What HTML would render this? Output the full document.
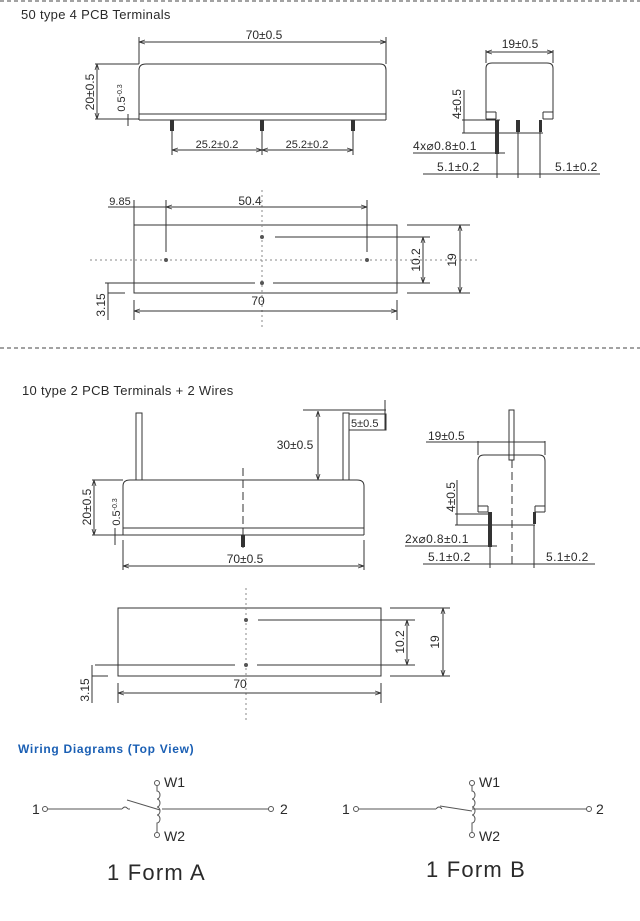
<!DOCTYPE html>
<html><head><meta charset="utf-8"><style>
html,body{margin:0;padding:0;background:#fff}
svg{display:block}
text{font-family:"Liberation Sans",sans-serif;fill:#2a2a2a}
</style></head><body>
<svg width="640" height="921" viewBox="0 0 640 921" xmlns="http://www.w3.org/2000/svg">
<defs>
<marker id="a" markerWidth="6" markerHeight="6" refX="6" refY="3" orient="auto-start-reverse"><path d="M0,1 L6,3 L0,5" fill="none" stroke="#333" stroke-width="0.8"/></marker>
</defs>
<g stroke="#444" stroke-width="1" fill="none">
<line x1="0" y1="1" x2="640" y2="1" stroke-dasharray="4,3"/>
<line x1="0" y1="348" x2="640" y2="348" stroke-dasharray="4,3"/>
</g>
<text x="21" y="19" font-size="13" letter-spacing="0.3">50 type 4 PCB Terminals</text>
<text x="22" y="395" font-size="13" letter-spacing="0.3">10 type 2 PCB Terminals + 2 Wires</text>

<!-- Section 1 side view -->
<g stroke="#333" stroke-width="1" fill="none">
<path d="M139,120 V70 Q139,64 146,64 H380 Q386,64 386,70 V120"/>
<line x1="139" y1="114" x2="386" y2="114"/>
<line x1="139" y1="120" x2="386" y2="120"/>
<line x1="139" y1="37" x2="139" y2="64"/><line x1="386" y1="37" x2="386" y2="64"/>
<line x1="139" y1="42" x2="386" y2="42" marker-start="url(#a)" marker-end="url(#a)"/>
<line x1="95" y1="64" x2="139" y2="64"/><line x1="95" y1="119" x2="139" y2="119"/>
<line x1="97" y1="64" x2="97" y2="119" marker-start="url(#a)" marker-end="url(#a)"/>
<line x1="128" y1="114" x2="128" y2="126"/>
<line x1="172" y1="125" x2="172" y2="155"/><line x1="262" y1="125" x2="262" y2="155"/><line x1="353" y1="125" x2="353" y2="155"/>
<line x1="172" y1="150" x2="262" y2="150" marker-start="url(#a)" marker-end="url(#a)"/>
<line x1="262" y1="150" x2="353" y2="150" marker-start="url(#a)" marker-end="url(#a)"/>
</g>
<g fill="#333"><rect x="170" y="120" width="4" height="11"/><rect x="260" y="120" width="4" height="11"/><rect x="351" y="120" width="4" height="11"/></g>
<text x="264" y="39" font-size="12" text-anchor="middle">70±0.5</text>
<text transform="translate(94,92) rotate(-90)" font-size="12" text-anchor="middle">20±0.5</text>
<text transform="translate(125,98) rotate(-90)" font-size="11" text-anchor="middle">0.5<tspan font-size="7" dy="-3">-0.3</tspan></text>
<text x="217" y="148" font-size="11" text-anchor="middle">25.2±0.2</text>
<text x="307" y="148" font-size="11" text-anchor="middle">25.2±0.2</text>

<!-- Section 1 end view -->
<g stroke="#333" stroke-width="1" fill="none">
<path d="M486,119 V68 Q486,63 492,63 H547 Q553,63 553,68 V119"/>
<line x1="486" y1="119" x2="496" y2="119"/><line x1="543" y1="119" x2="553" y2="119"/>
<line x1="496" y1="119" x2="496" y2="112"/><line x1="543" y1="119" x2="543" y2="112"/>
<line x1="486" y1="112" x2="496" y2="112"/><line x1="543" y1="112" x2="553" y2="112"/>
<line x1="486" y1="50" x2="486" y2="63"/><line x1="553" y1="50" x2="553" y2="63"/>
<line x1="486" y1="52" x2="553" y2="52" marker-start="url(#a)" marker-end="url(#a)"/>
<line x1="462" y1="120" x2="500" y2="120"/><line x1="462" y1="133" x2="543" y2="133"/>
<line x1="464" y1="90" x2="464" y2="133"/>
<line x1="413" y1="153" x2="505" y2="153"/>
<line x1="423" y1="174" x2="600" y2="174"/>
<line x1="497" y1="150" x2="497" y2="178"/><line x1="518" y1="130" x2="518" y2="178"/><line x1="540" y1="130" x2="540" y2="178"/>
</g>
<g fill="#333"><rect x="495" y="120" width="4" height="34"/><rect x="516" y="120" width="4" height="12"/><rect x="539" y="120" width="3" height="12"/></g>
<text x="520" y="48" font-size="12" text-anchor="middle">19±0.5</text>
<text transform="translate(461,104) rotate(-90)" font-size="12" text-anchor="middle">4±0.5</text>
<text x="413" y="150" font-size="12" letter-spacing="0.4">4x⌀0.8±0.1</text>
<text x="437" y="171" font-size="12" letter-spacing="0.4">5.1±0.2</text>
<text x="555" y="171" font-size="12" letter-spacing="0.4">5.1±0.2</text>

<!-- Section 1 plan -->
<g stroke="#333" stroke-width="1" fill="none">
<rect x="134" y="225" width="263" height="68"/>
<line x1="90" y1="260" x2="478" y2="260" stroke-dasharray="2,3" stroke="#888"/>
<line x1="262" y1="190" x2="262" y2="330" stroke-dasharray="2,3" stroke="#888"/>
<line x1="275" y1="237" x2="430" y2="237"/>
<line x1="105" y1="283" x2="255" y2="283"/><line x1="273" y1="283" x2="430" y2="283"/>
<line x1="423" y1="237" x2="423" y2="283" marker-start="url(#a)" marker-end="url(#a)"/>
<line x1="407" y1="225" x2="470" y2="225"/><line x1="407" y1="293" x2="470" y2="293"/>
<line x1="460" y1="225" x2="460" y2="293" marker-start="url(#a)" marker-end="url(#a)"/>
<line x1="134" y1="200" x2="134" y2="225"/><line x1="166" y1="200" x2="166" y2="252"/><line x1="367" y1="200" x2="367" y2="252"/>
<line x1="108" y1="207" x2="166" y2="207"/>
<line x1="166" y1="207" x2="367" y2="207" marker-start="url(#a)" marker-end="url(#a)"/>
<line x1="134" y1="300" x2="134" y2="320"/><line x1="397" y1="300" x2="397" y2="320"/>
<line x1="134" y1="311" x2="397" y2="311" marker-start="url(#a)" marker-end="url(#a)"/>
<line x1="108" y1="283" x2="108" y2="320"/><line x1="108" y1="293" x2="125" y2="293"/>
</g>
<g fill="#555"><circle cx="166" cy="260" r="2"/><circle cx="367" cy="260" r="2"/><circle cx="262" cy="237" r="2"/><circle cx="262" cy="283" r="2"/></g>
<text x="120" y="205" font-size="11" text-anchor="middle">9.85</text>
<text x="250" y="205" font-size="12" text-anchor="middle">50.4</text>
<text x="258" y="305" font-size="12" text-anchor="middle">70</text>
<text transform="translate(420,260) rotate(-90)" font-size="12" text-anchor="middle">10.2</text>
<text transform="translate(456,260) rotate(-90)" font-size="12" text-anchor="middle">19</text>
<text transform="translate(105,305) rotate(-90)" font-size="12" text-anchor="middle">3.15</text>

<!-- Section 2 side view -->
<g stroke="#333" stroke-width="1" fill="none">
<path d="M123,535 V486 Q123,480 130,480 H357 Q364,480 364,486 V535"/>
<line x1="123" y1="528" x2="364" y2="528"/><line x1="123" y1="535" x2="364" y2="535"/>
<rect x="136" y="413" width="6" height="67"/>
<rect x="343" y="413" width="6" height="67"/>
<line x1="303" y1="410" x2="386" y2="410"/>
<line x1="318" y1="411" x2="318" y2="480" marker-start="url(#a)" marker-end="url(#a)"/>
<rect x="349" y="414" width="37" height="16"/>
<line x1="385" y1="400" x2="385" y2="430"/>
<line x1="243" y1="468" x2="243" y2="548" stroke-dasharray="8,4"/>
<line x1="92" y1="480" x2="123" y2="480"/><line x1="92" y1="535" x2="123" y2="535"/>
<line x1="94" y1="480" x2="94" y2="535" marker-start="url(#a)" marker-end="url(#a)"/>
<line x1="115" y1="528" x2="115" y2="545"/>
<line x1="123" y1="540" x2="123" y2="570"/><line x1="364" y1="540" x2="364" y2="570"/>
<line x1="123" y1="566" x2="364" y2="566" marker-start="url(#a)" marker-end="url(#a)"/>
</g>
<rect x="241" y="535" width="4" height="12" fill="#333"/>
<text x="295" y="449" font-size="12" text-anchor="middle">30±0.5</text>
<text x="351" y="427" font-size="11">5±0.5</text>
<text x="245" y="563" font-size="12" text-anchor="middle">70±0.5</text>
<text transform="translate(91,507) rotate(-90)" font-size="12" text-anchor="middle">20±0.5</text>
<text transform="translate(120,512) rotate(-90)" font-size="11" text-anchor="middle">0.5<tspan font-size="7" dy="-3">-0.3</tspan></text>

<!-- Section 2 end view -->
<g stroke="#333" stroke-width="1" fill="none">
<path d="M478,512 V461 Q478,455 484,455 H539 Q545,455 545,461 V512"/>
<line x1="478" y1="512" x2="488" y2="512"/><line x1="535" y1="512" x2="545" y2="512"/>
<line x1="488" y1="512" x2="488" y2="506"/><line x1="535" y1="512" x2="535" y2="506"/>
<line x1="478" y1="506" x2="488" y2="506"/><line x1="535" y1="506" x2="545" y2="506"/>
<rect x="509" y="410" width="5" height="50"/>
<line x1="512" y1="460" x2="512" y2="566" stroke-dasharray="8,4"/>
<line x1="478" y1="441" x2="478" y2="455"/><line x1="545" y1="441" x2="545" y2="455"/>
<line x1="426" y1="442" x2="545" y2="442"/>
<line x1="455" y1="514" x2="490" y2="514"/><line x1="455" y1="525" x2="535" y2="525"/>
<line x1="457" y1="480" x2="457" y2="525"/>
<line x1="405" y1="546" x2="497" y2="546"/>
<line x1="423" y1="564" x2="595" y2="564"/>
<line x1="490" y1="540" x2="490" y2="568"/><line x1="534" y1="525" x2="534" y2="568"/>
</g>
<g fill="#333"><rect x="488" y="512" width="4" height="35"/><rect x="533" y="512" width="3" height="12"/></g>
<text x="428" y="440" font-size="12">19±0.5</text>
<text transform="translate(455,497) rotate(-90)" font-size="12" text-anchor="middle">4±0.5</text>
<text x="405" y="543" font-size="12" letter-spacing="0.4">2x⌀0.8±0.1</text>
<text x="428" y="561" font-size="12" letter-spacing="0.4">5.1±0.2</text>
<text x="546" y="561" font-size="12" letter-spacing="0.4">5.1±0.2</text>

<!-- Section 2 plan -->
<g stroke="#333" stroke-width="1" fill="none">
<rect x="118" y="608" width="263" height="68"/>
<line x1="246" y1="588" x2="246" y2="720" stroke-dasharray="2,3" stroke="#888"/>
<line x1="258" y1="620" x2="415" y2="620"/>
<line x1="95" y1="665" x2="235" y2="665"/><line x1="257" y1="665" x2="415" y2="665"/>
<line x1="407" y1="620" x2="407" y2="665" marker-start="url(#a)" marker-end="url(#a)"/>
<line x1="390" y1="608" x2="450" y2="608"/><line x1="390" y1="676" x2="450" y2="676"/>
<line x1="443" y1="608" x2="443" y2="676" marker-start="url(#a)" marker-end="url(#a)"/>
<line x1="118" y1="683" x2="118" y2="703"/><line x1="381" y1="683" x2="381" y2="703"/>
<line x1="118" y1="693" x2="381" y2="693" marker-start="url(#a)" marker-end="url(#a)"/>
<line x1="92" y1="665" x2="92" y2="703"/><line x1="92" y1="676" x2="108" y2="676"/>
</g>
<g fill="#555"><circle cx="246" cy="620" r="2"/><circle cx="246" cy="665" r="2"/></g>
<text x="240" y="688" font-size="12" text-anchor="middle">70</text>
<text transform="translate(404,642) rotate(-90)" font-size="12" text-anchor="middle">10.2</text>
<text transform="translate(439,642) rotate(-90)" font-size="12" text-anchor="middle">19</text>
<text transform="translate(89,690) rotate(-90)" font-size="12" text-anchor="middle">3.15</text>

<!-- Wiring -->
<text x="18" y="753" font-size="12" font-weight="bold" letter-spacing="0.7" style="fill:#1a5fb4">Wiring Diagrams (Top View)</text>
<g stroke="#555" stroke-width="1" fill="none">
<circle cx="45" cy="809" r="2.5"/><line x1="48" y1="809" x2="122" y2="809"/>
<path d="M122,809 q3,-4 6,0"/><line x1="128" y1="809" x2="130" y2="809"/>
<line x1="127" y1="800" x2="160" y2="810"/>
<line x1="162" y1="809" x2="268" y2="809"/><circle cx="271" cy="809" r="2.5"/>
<circle cx="157" cy="783" r="2.5"/><circle cx="157" cy="835" r="2.5"/>
<path d="M157,786 V791 a3,4 0 0 1 0,8 a3,4 0 0 1 0,8 a3,4 0 0 1 0,8 a3,4 0 0 1 0,8 V832"/>

<circle cx="356" cy="809" r="2.5"/><line x1="359" y1="809" x2="436" y2="809"/>
<path d="M436,809 q3,-4 6,0"/>
<line x1="440" y1="806" x2="472" y2="811"/>
<line x1="472" y1="809" x2="586" y2="809"/><circle cx="589" cy="809" r="2.5"/>
<circle cx="472" cy="783" r="2.5"/><circle cx="472" cy="835" r="2.5"/>
<path d="M472,786 V791 a3,4 0 0 1 0,8 a3,4 0 0 1 0,8 a3,4 0 0 1 0,8 a3,4 0 0 1 0,8 V832"/>
</g>
<g font-size="14">
<text x="32" y="814">1</text><text x="280" y="814">2</text>
<text x="164" y="787">W1</text><text x="164" y="841">W2</text>
<text x="342" y="814">1</text><text x="596" y="814">2</text>
<text x="479" y="787">W1</text><text x="479" y="841">W2</text>
</g>
<text x="107" y="880" font-size="22" letter-spacing="1.2">1 Form A</text>
<text x="426" y="877" font-size="22" letter-spacing="1.2">1 Form B</text>
</svg>
</body></html>
